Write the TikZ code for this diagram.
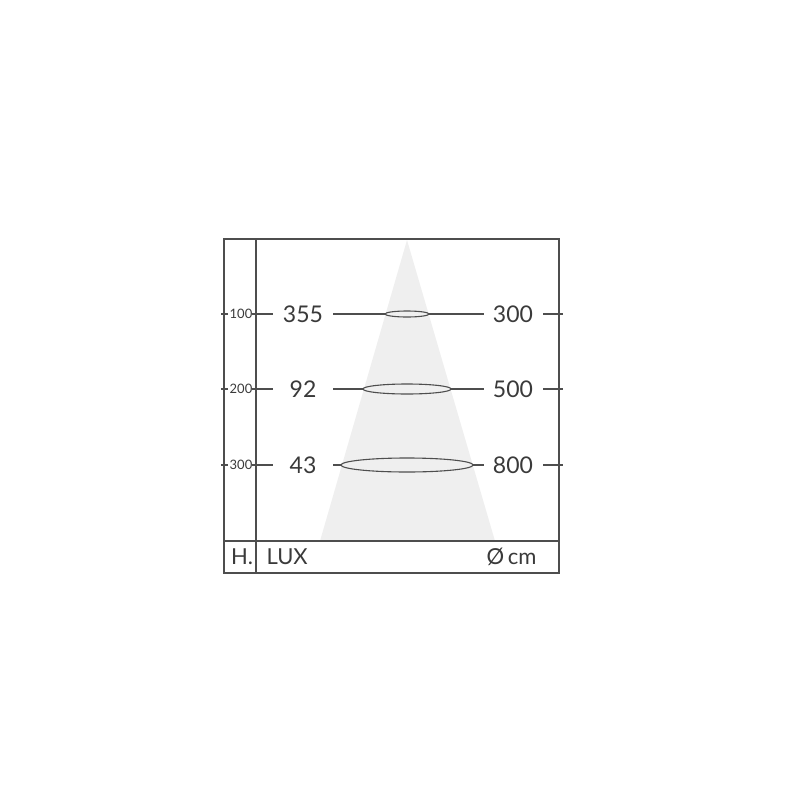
\documentclass[tikz,border=0pt]{standalone}
\usepackage{fontspec}
\setmainfont{Lato}
\definecolor{ink}{HTML}{3A3A3A}
\definecolor{cone}{HTML}{EFEFEF}
\begin{document}
\begin{tikzpicture}[x=1pt, y=-1pt, line width=1.1pt, draw=ink!90,
  bignum/.style={font=\fontsize{23}{23}\selectfont, text=ink, inner sep=0pt},
  height/.style={font=\fontsize{13}{13}\selectfont, text=ink, inner sep=0pt}]
\useasboundingbox (0,0) rectangle (800,800);
% light cone
\fill [cone] (407,240) coordinate (apex) -- (495,541) -- (320,541) -- cycle;
% frame
\draw (224,239) rectangle (559,573);
\draw (256,239) -- (256,573);
\draw (224,541) -- (559,541);
% rows: height / lux / diameter / spot radius
\foreach \y/\h/\lux/\dia/\r/\s in {314/100/355/300/22/3, 389/200/92/500/44/5, 465/300/43/800/66/7} {
  \draw (221,\y) -- (228,\y);
  \node [height] (h\h) at (241,\y) {\h};
  \draw (252,\y) -- (273,\y);
  \node [bignum] (lux\h) at (303,\y) {\lux};
  \draw (333,\y) -- (407-\r,\y);
  \draw (407,\y) ellipse [x radius=\r, y radius=\s];
  \draw (407+\r,\y) -- (484,\y);
  \node [bignum] (dia\h) at (513,\y) {\dia};
  \draw (543,\y) -- (563,\y);
}
% legend
\node [bignum, font=\fontsize{22}{22}\selectfont] (hlab) at (242,557) {H.};
\node [bignum, font=\fontsize{22}{22}\selectfont, anchor=west] (luxlab) at (266,557) {LUX};
\node [bignum, font=\fontsize{22}{22}\selectfont, anchor=east] (dialab) at (537,557) {Ø\,cm};
\end{tikzpicture}
\end{document}
